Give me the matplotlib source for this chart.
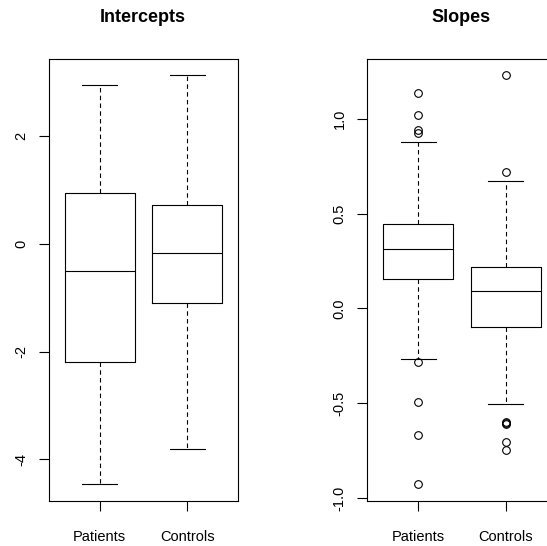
import matplotlib
matplotlib.use("Agg")
import matplotlib.pyplot as plt

plt.rcParams['font.family'] = ['Liberation Sans', 'DejaVu Sans']

groups = ["Patients", "Controls"]

# intercepts: whisker low, q1, median, q3, whisker high
int_patients = [-4.46, -2.20, -0.51, 0.93, 2.93]
int_controls = [-3.81, -1.11, -0.17, 0.72, 3.12]
int_ticks = [-4, -2, 0, 2]
int_ticklabels = ["-4", "-2", "0", "2"]

# slopes
slope_patients = [-0.266, 0.156, 0.311, 0.446, 0.878]
slope_controls = [-0.506, -0.099, 0.090, 0.219, 0.673]
slope_patients_out = [1.135, 1.02, 0.94, 0.928, -0.285, -0.496, -0.668, -0.928]
slope_controls_out = [1.231, 0.719, -0.600, -0.605, -0.610, -0.703, -0.747]
slope_ticks = [-1.0, -0.5, 0.0, 0.5, 1.0]
slope_ticklabels = ["-1.0", "-0.5", "0.0", "0.5", "1.0"]


def make_stats(five, fliers, label):
    return {"whislo": five[0], "q1": five[1], "med": five[2],
            "q3": five[3], "whishi": five[4], "fliers": fliers, "label": label}


def draw(ax, stats, yticks, yticklabels, all_values):
    lw = 0.8
    ax.bxp(stats, positions=[1, 2], widths=0.8, capwidths=0.4,
           boxprops=dict(color='black', linewidth=lw),
           medianprops=dict(color='black', linewidth=lw),
           whiskerprops=dict(color='black', linewidth=lw, linestyle=(0, (4, 3))),
           capprops=dict(color='black', linewidth=lw),
           flierprops=dict(marker='o', markerfacecolor='none', markeredgecolor='black',
                           markersize=5.5, markeredgewidth=0.8),
           showfliers=True)
    ax.set_xlim(0.42, 2.58)
    # R-style 4% padding around the data range
    lo, hi = min(all_values), max(all_values)
    pad = 0.04 * (hi - lo)
    ax.set_ylim(lo - pad, hi + pad)
    ax.set_yticks(yticks)
    ax.set_yticklabels(yticklabels, rotation=90, va='center')
    ax.tick_params(axis='y', length=7.5, width=0.8, pad=7.5, labelsize=10.5)
    ax.tick_params(axis='x', length=7.5, width=0.8, pad=13.5, labelsize=10.5)
    for s in ax.spines.values():
        s.set_linewidth(0.8)


fig = plt.figure(figsize=(5.47, 5.46), dpi=100)

ax1 = fig.add_axes([49 / 547, 45.3 / 546, 189 / 547, 442 / 546])
draw(ax1, [make_stats(int_patients, [], groups[0]), make_stats(int_controls, [], groups[1])],
     int_ticks, int_ticklabels, int_patients + int_controls)

# right panel runs past the figure edge like in the original
ax2 = fig.add_axes([367.3 / 547, 45.3 / 546, 189.2 / 547, 442 / 546])
draw(ax2, [make_stats(slope_patients, slope_patients_out, groups[0]),
           make_stats(slope_controls, slope_controls_out, groups[1])],
     slope_ticks, slope_ticklabels,
     slope_patients + slope_controls + slope_patients_out + slope_controls_out)

fig.text(143 / 547, 1 - 18 / 546, "Intercepts", ha='center', va='center',
         fontsize=13, fontweight='bold')
fig.text(461 / 547, 1 - 18 / 546, "Slopes", ha='center', va='center',
         fontsize=13, fontweight='bold')

fig.savefig("out.png", dpi=100)
